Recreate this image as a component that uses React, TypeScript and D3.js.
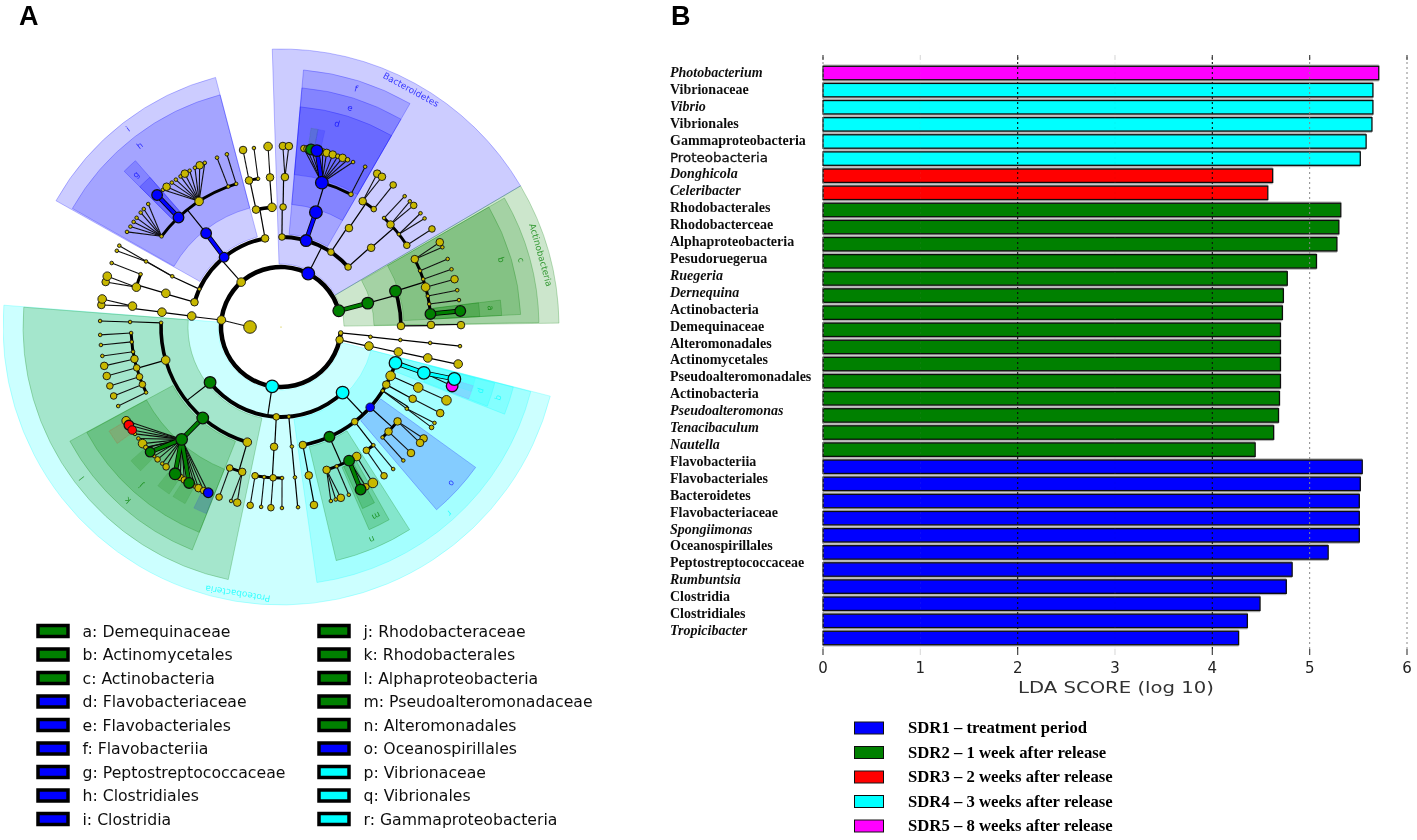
import React from "react";
import * as d3 from "d3";

// ---------- Panel B data ----------
const barLabels = ["Photobacterium","Vibrionaceae","Vibrio","Vibrionales","Gammaproteobacteria","Proteobacteria","Donghicola","Celeribacter","Rhodobacterales","Rhodobacterceae","Alphaproteobacteria","Pesudoruegerua","Ruegeria","Dernequina","Actinobacteria","Demequinaceae","Alteromonadales","Actinomycetales","Pseudoalteromonadales","Actinobacteria","Pseudoalteromonas","Tenacibaculum","Nautella","Flavobacteriia","Flavobacteriales","Bacteroidetes","Flavobacteriaceae","Spongiimonas","Oceanospirillales","Peptostreptococcaceae","Rumbuntsia","Clostridia","Clostridiales","Tropicibacter"];
const barValues = [5.71,5.65,5.65,5.64,5.58,5.52,4.62,4.57,5.32,5.30,5.28,5.07,4.77,4.73,4.72,4.70,4.70,4.70,4.70,4.69,4.68,4.63,4.44,5.54,5.52,5.51,5.51,5.51,5.19,4.82,4.76,4.49,4.36,4.27];
const barGroups = ["m","c","c","c","c","c","r","r","g","g","g","g","g","g","g","g","g","g","g","g","g","g","g","b","b","b","b","b","b","b","b","b","b","b"];
const italicLabels = ["Photobacterium","Vibrio","Donghicola","Celeribacter","Ruegeria","Dernequina","Pseudoalteromonas","Tenacibaculum","Nautella","Spongiimonas","Rumbuntsia","Tropicibacter"];
const xTicks = [0,1,2,3,4,5,6];
const sdrLegend: [string,string][] = [["b","SDR1 – treatment period"],["g","SDR2 – 1 week after release"],["r","SDR3 – 2 weeks after release"],["c","SDR4 – 3 weeks after release"],["m","SDR5 – 8 weeks after release"]];

// ---------- Panel A data ----------
const colours: Record<string,string> = { y:"#c8b800", g:"#008000", b:"#0000ff", r:"#ff0000", c:"#00ffff", m:"#ff00ff" };
const cladeLegendA: [string,string][] = [["g","a: Demequinaceae"],["g","b: Actinomycetales"],["g","c: Actinobacteria"],["b","d: Flavobacteriaceae"],["b","e: Flavobacteriales"],["b","f: Flavobacteriia"],["b","g: Peptostreptococcaceae"],["b","h: Clostridiales"],["b","i: Clostridia"]];
const cladeLegendB: [string,string][] = [["g","j: Rhodobacteraceae"],["g","k: Rhodobacterales"],["g","l: Alphaproteobacteria"],["g","m: Pseudoalteromonadaceae"],["g","n: Alteromonadales"],["b","o: Oceanospirillales"],["c","p: Vibrionaceae"],["c","q: Vibrionales"],["c","r: Gammaproteobacteria"]];

// colour, band, start angle, end angle (degrees clockwise from north)
const sectors: [string,string,number,number][] = [
  ["b","phylum",358.2,419.5],["g","phylum",59.5,89.2],["c","phylum",104.4,274.5],
  ["b","class",299.3,345.3],["b","class",5,30],["g","class",60,89],["g","class",191.8,274.4],["c","class",104.5,172],
  ["b","order",299.6,345.3],["b","order",5,30],["g","order",60,87],["g","order",201.7,241.6],["g","order",147.6,166.7],["b","order",125.8,139.6],["c","order",104.5,111.3],
  ["b","family",5,30],["b","family",314.8,318.8],["g","family",83,87],["g","family",201.7,241.5],["g","family",150.7,156.5],["c","family",104.7,111],
  ["b","inner",314.8,318.8],["g","inner",83,87],["g","inner",152,155.8],
  ["g","genus",8.6,10.6],["b","genus",10.6,12.6],["r","genus",234.6,238.8],["g","genus",224.3,228.3],["g","genus",213.8,217.8],["g","genus",208.5,212.5],["b","genus",201.8,205.7],["m","genus",107,111],["c","genus",104.7,108.7],
];
const bands: Record<string,[number,number]> = { phylum:[63,278], class:[93,258], order:[123,240], family:[153,221], inner:[153,199], genus:[184,201] };

// text, angle, radius, colour
const sectorTexts: [string,number,number,string][] = [
  ["Bacteroidetes",28.7,270,"b"],["Actinobacteria",74.5,269,"g"],["Proteobacteria",189.2,269.5,"c"],
  ["a",84.8,210,"g"],["b",73,230,"g"],["c",74.4,249,"g"],["d",15.4,210.6,"b"],["e",17.5,229.6,"b"],["f",17.5,249.5,"b"],
  ["g",316.4,210,"b"],["h",322.1,229.4,"b"],["i",322.3,250,"b"],["j",221.5,211,"g"],["k",221.5,231,"g"],["l",232.8,249.8,"g"],
  ["m",153.3,211,"g"],["n",156.8,230.7,"g"],["o",132.5,231,"b"],["p",107.7,210,"c"],["q",108,229,"c"],["r",137.9,250.6,"c"],
];

// id, parent, angle, radius, node size, colour, link kind (s: spoke and arc, l: line, t: thick coloured line)
type Clade = [string,string,number,number,number,string,string];
const phyla: Clade[] = [
  ["P0","",0,0,0.6,"y","n"],
  ["Pa","P0",434.3,60,5.5,"g","s"],["Pb","P0",387,60,6,"b","s"],["Pf","P0",318.4,60,4,"y","s"],["Pu","P0",276.7,60,4,"y","s"],
  ["Pp","P0",188.5,60,6,"c","s"],["Py","P0",102.4,60,3.5,"y","s"],["Px","P0",95.7,60,2,"y","s"],
  ["Pi","Pu",270,31,6,"y","l"],
];
const actinobacteria: Clade[] = [
  ["A1","Pa",74.6,90,5.5,"g","t"],["A2","A1",72.6,120,5.5,"g","s"],["A3","A1",89.5,120,3.5,"y","s"],
  ["A4","A3",89.2,150,3.5,"y","s"],["A5","A4",89.4,180,3.5,"y","s"],
  ["B1","A2",63.1,150,3.5,"y","s"],["B2","A2",68,150,1.5,"y","s"],["B3","A2",71.4,150,1.5,"y","s"],["B4","A2",74.6,150,4,"y","s"],["B5","A2",78.1,150,1.5,"y","s"],["B6","A2",81.2,150,1.5,"y","s"],["B7","A2",85,150,5,"g","s"],
  ["C1","B1",61.9,180,3.5,"y","l"],["C2","B1",63.7,180,1.5,"y","l"],["C3","B2",67.8,180,1.5,"y","l"],["C4","B3",71.3,180,1.5,"y","l"],["C5","B4",74.6,180,3.5,"y","l"],["C6","B5",78.2,180,1.5,"y","l"],["C7","B6",81.4,180,1.5,"y","l"],["C8","B7",84.9,180,5,"g","t"],
];
const bacteroidetes: Clade[] = [
  ["D1","Pb",0.6,90,3,"y","s"],["D2","Pb",16.2,90,5.5,"b","s"],["D3","Pb",33.7,90,3,"y","s"],["D4","Pb",48.2,90,3,"y","s"],
  ["D5","D1",1,120,3,"y","s"],["D6","D5",1.5,150,3.5,"y","s"],["D7","D6",0.6,181,3.5,"y","l"],["D8","D6",2.5,181,3.5,"y","l"],
  ["E1","D2",16.9,120,6,"b","t"],["E2","E1",15.8,150,6,"b","s"],["E3","E1",27.8,150,2,"y","s"],["E4","E3",27.7,181,1.5,"y","l"],
  ["F1","E2",7.3,180,3,"y","l"],["F2","E2",8.3,180,3,"y","l"],["F3","E2",13.4,180,3,"y","l"],["F4","E2",14.7,180,3.5,"y","l"],["F5","E2",16.7,180,3.5,"y","l"],["F6","E2",18.4,180,2,"y","l"],["F7","E2",20,180,3.5,"y","l"],["F8","E2",21.7,180,2,"y","l"],["F9","E2",23.6,180,1.5,"y","l"],
  ["F10","E2",9.6,180,5,"g","l"],["F11","E2",11.5,180,5.5,"b","t"],
  ["G1","D3",34.5,120,3.5,"y","s"],["G2","G1",33,150,3.5,"y","s"],["G3","G1",38.2,150,2.5,"y","s"],["G4","G2",32.1,181,3.5,"y","l"],["G5","G2",33.9,181,3.5,"y","l"],["G6","G3",38.3,181,3,"y","l"],
  ["H1","D4",48.7,120,3.5,"y","s"],["H2","H1",43.4,150,1.5,"y","s"],["H3","H1",46.9,150,3.5,"y","s"],["H4","H1",51.8,150,1.5,"y","s"],["H5","H1",57,150,3,"y","s"],
  ["H6","H2",43.4,180,1.5,"y","l"],["H7","H3",45.7,180,1.5,"y","l"],["H8","H3",47.5,180,3,"y","l"],["H9","H4",50.8,180,1.5,"y","l"],["H10","H4",52.9,180,1.5,"y","l"],["H11","H5",57,180,3,"y","l"],
];
const firmicutes: Clade[] = [
  ["I1","Pf",286,90,3.5,"y","s"],["I2","Pf",294.9,90,1.5,"y","s"],["I3","Pf",320.8,90,4.5,"b","s"],["I4","Pf",349.8,90,3.5,"y","s"],
  ["J1","I1",286.3,120,4,"y","s"],["J2","J1",285.4,150,4,"y","s"],["J3","J1",290.6,150,1.5,"y","s"],["J4","J2",284.4,181,3.5,"y","l"],["J5","J2",286.3,181,4,"y","l"],["J6","J3",290.7,181,1.5,"y","l"],
  ["K1","I2",295,120,1.5,"y","s"],["K2","K1",295.9,150,1.5,"y","l"],["K3","K2",294.9,181,1.5,"y","l"],["K4","K1",296.7,181,1.5,"y","l"],
  ["L1","I3",321.4,120,5,"b","t"],["L2","L1",307.2,150,1.5,"y","s"],["L3","L1",316.9,150,5,"b","s"],["L4","L1",326.9,150,4,"y","s"],["L5","L1",339.4,150,1.5,"y","s"],["L6","L1",342.6,150,1.5,"y","s"],
  ["M1","L2",301.7,181,1.5,"y","l"],["M2","L2",303.7,181,1.5,"y","l"],["M3","L2",305.5,181,1.5,"y","l"],["M4","L2",307.1,181,1.5,"y","l"],["M5","L2",309.2,181,1.5,"y","l"],["M6","L2",310.7,181,1.5,"y","l"],["M7","L2",312.8,181,1.5,"y","l"],
  ["N0","L3",316.8,181,5,"b","t"],
  ["N1","L4",319.3,181,1.5,"y","l"],["N2","L4",320.8,181,3.5,"y","l"],["N3","L4",322.9,181,1.5,"y","l"],["N4","L4",324.5,181,1.5,"y","l"],["N5","L4",326.3,181,1.5,"y","l"],["N6","L4",327.9,181,3.5,"y","l"],["N7","L4",329.7,181,1.5,"y","l"],["N8","L4",331.6,181,1.5,"y","l"],["N9","L4",333.3,181,3.5,"y","l"],["N10","L4",335.1,181,1.5,"y","l"],
  ["N11","L5",339.3,181,1.5,"y","l"],["N12","L6",342.6,181,1.5,"y","l"],
  ["O1","I4",348,120,3.5,"y","s"],["O2","I4",355.7,120,4,"y","s"],["O3","O1",347.7,150,3.5,"y","s"],["O4","O1",351.2,150,1.5,"y","s"],["O5","O3",347.9,181,3.5,"y","l"],["O6","O4",351.4,181,1.5,"y","l"],["O7","O2",355.8,150,3.5,"y","s"],["O8","O7",355.9,181,4,"y","l"],
];
const unnamedPhyla: Clade[] = [
  ["Q1","Pu",277,90,4,"y","s"],["Q2","Q1",277.1,120,4,"y","s"],["Q3","Q2",278,150,4,"y","s"],["Q4","Q3",277,181,3.5,"y","l"],["Q5","Q3",278.9,181,4,"y","l"],
  ["R1","Py",102.2,90,4,"y","s"],["R2","R1",102,120,4,"y","s"],["R3","R2",101.9,150,4,"y","s"],["R4","R3",101.8,181,4,"y","s"],
  ["S1","Px",96.3,90,1.5,"y","s"],["S2","S1",96.2,120,1.5,"y","s"],["S3","S2",96.1,150,1.5,"y","s"],["S4","S3",96.1,180,1.5,"y","s"],
];
const alphaproteobacteria: Clade[] = [
  ["T1","Pp",232,90,5.5,"g","s"],["T2","Pp",183,90,3,"y","s"],["T3","Pp",175,90,1.5,"y","s"],["T4","Pp",136.8,90,6,"c","s"],
  ["U1","T1",196.3,120,4,"y","s"],["U2","T1",220.7,120,5.5,"g","s"],["U3","T1",254,120,4,"y","s"],["U4","T1",272,120,1.5,"y","s"],
  ["U5","U4",271.9,151,1.5,"y","s"],["U6","U5",271.9,181,1.5,"y","s"],
  ["V1","U3",267.7,150,1.5,"y","s"],["V2","U3",264.3,150,1.5,"y","s"],["V3","U3",260.5,150,1.5,"y","s"],["V4","U3",257.7,150,3.5,"y","s"],["V5","U3",254.2,150,3,"y","s"],["V6","U3",250.6,150,3,"y","s"],["V7","U3",247.5,150,3,"y","s"],["V8","U3",244.1,150,1.5,"y","s"],
  ["W1","V1",267.5,181,1.5,"y","l"],["W2","V2",264.3,181,1.5,"y","l"],["W3","V3",260.8,181,1.5,"y","l"],["W4","V4",257.6,181,3.5,"y","l"],["W5","V5",254.3,181,3.5,"y","l"],["W6","V6",251,181,3,"y","l"],["W7","V7",247.6,181,3,"y","l"],["W8","V8",244.1,181,1.5,"y","l"],
  ["X1","U1",200,150,3,"y","s"],["X2","U1",195,150,3.5,"y","s"],["X3","X1",200,181,3,"y","l"],["X4","X2",194,181,3.5,"y","l"],["X5","X2",196,181,1.5,"y","l"],
  ["Y0","U2",221.5,150,5.5,"g","t"],
  ["Y1","Y0",238.8,181,4,"y","l"],["Y2","Y0",232,181,1.5,"y","l"],["Y3","Y0",233.8,181,1.5,"y","l"],["Y4","Y0",229.9,181,4,"y","l"],["Y5","Y0",228.2,181,1.5,"y","l"],["Y6","Y0",228.3,181,2,"y","l"],["Y7","Y0",224.5,181,1.5,"y","l"],["Y8","Y0",223,181,2.5,"y","l"],["Y9","Y0",221,181,1.5,"y","l"],["Y10","Y0",219.4,181,3,"y","l"],["Y11","Y0",213.8,181,3,"y","l"],["Y12","Y0",212.3,181,3,"y","l"],["Y13","Y0",208.4,181,2,"y","l"],["Y14","Y0",207.1,181,3.5,"y","l"],["Y15","Y0",205.3,181,3,"y","l"],
  ["Y16","Y0",237.2,181,4.5,"r","l"],["Y17","Y0",235.3,181,4,"r","l"],["Y18","Y0",203.7,181,4.5,"b","l"],["Y19","Y0",226.3,181,4.5,"g","t"],["Y20","Y0",215.8,181,5.5,"g","t"],["Y21","Y0",210.5,181,5,"g","t"],
  ["Z1","T2",183.3,120,3.5,"y","s"],["Z2","Z1",189.9,151,3,"y","s"],["Z3","Z1",186.4,151,1.5,"y","s"],["Z4","Z1",183,151,3,"y","s"],["Z5","Z1",179.6,151,1.5,"y","s"],
  ["Z6","Z2",189.8,181,3,"y","l"],["Z7","Z3",186.3,181,1.5,"y","l"],["Z8","Z4",183.2,181,3,"y","l"],["Z9","Z5",179.7,181,1.5,"y","l"],
  ["Z10","T3",174.8,120,1.5,"y","s"],["Z11","Z10",174.7,151,1.5,"y","s"],["Z12","Z11",174.6,181,1.5,"y","s"],
];
const gammaproteobacteria: Clade[] = [
  ["a1","T4",169.5,120,3.5,"y","s"],["a2","T4",156.2,120,5,"g","s"],["a3","T4",142.1,120,3,"y","s"],["a4","T4",132,120,4,"b","s"],["a5","T4",122.1,120,1.5,"y","s"],["a6","T4",118.7,120,3.5,"y","s"],["a7","T4",114,120,4.5,"y","s"],["a8","T4",107.4,120,6,"c","s"],
  ["b1","a1",169.4,151,3.5,"y","s"],["b2","b1",169.5,181,3.5,"y","s"],
  ["c1","a2",162.3,150,3.5,"y","s"],["c2","a2",158.2,150,1.5,"y","s"],["c3","a2",153,150,5,"g","s"],["c4","a2",149.7,150,4,"y","s"],
  ["c5","c1",164,181,1.5,"y","l"],["c6","c1",162.4,181,1.5,"y","l"],["c7","c1",160.7,181,3.5,"y","l"],["c8","c2",158,181,1.5,"y","l"],
  ["c9","c3",152,181,3,"y","l"],["c10","c3",153.9,181,5,"g","t"],["c11","c4",149.5,181,4.5,"y","l"],
  ["d1","a3",142,150,1.5,"y","s"],["d2","a3",145.3,150,3,"y","s"],["d3","d1",141.7,181,1.5,"y","l"],["d4","d2",145.3,181,3,"y","l"],
  ["e1","a4",129,150,3.5,"y","s"],["e2","a4",134.2,150,3.5,"y","s"],["e3","a4",137.4,150,1.5,"y","s"],
  ["e4","e1",128,181,3.5,"y","l"],["e5","e1",129.8,181,3.5,"y","l"],["e6","e2",134.1,181,3.5,"y","l"],["e7","e3",137.5,181,1.5,"y","l"],
  ["f1","a5",123,150,1.5,"y","s"],["f2","f1",122,181,1.5,"y","l"],["f3","a5",123.7,181,2,"y","l"],
  ["f4","a6",118.6,150,3.5,"y","s"],["f5","f4",118.4,181,3.5,"y","l"],["f6","a7",113.8,150,4.5,"y","s"],["f7","f6",113.9,181,4.5,"y","l"],
  ["h1","a8",107.8,150,6,"c","t"],["h3","h1",109,181,5.5,"m","l"],["h2","h1",106.7,181,6,"c","t"],
];
const clades: Clade[] = [...phyla,...actinobacteria,...bacteroidetes,...firmicutes,...unnamedPhyla,...alphaproteobacteria,...gammaproteobacteria];

// ---------- helpers ----------
const W = 1417, H = 840, CX = 281, CY = 327;
const rad = d3.scaleLinear().domain([0,360]).range([0,2*Math.PI]);
const pt = (a:number,r:number):[number,number] => { const [x,y]=d3.pointRadial(rad(a),r); return [x,y]; };
const x = d3.scaleLinear().domain([0,6]).range([823,1407]);
const y = d3.scaleLinear().domain([0,33]).range([73,638]);
const labelY = d3.scaleLinear().domain([0,33]).range([73,631]);
const legendY = d3.scaleLinear().domain([0,8]).range([631,819]);
const sdrY = d3.scaleLinear().domain([0,4]).range([728,826]);
const arcWidth = d3.scaleThreshold<number,number>().domain([70,100,130]).range([4.5,4,3.6,3]);

function Cladogram() {
  const arcGen = d3.arc();
  const byId = new Map(clades.map(c=>[c[0],c]));
  const groups = d3.group(clades.filter(c=>c[6]==="s"),c=>c[1]);
  const arcs: React.ReactNode[] = [];
  const spokes: React.ReactNode[] = [];
  groups.forEach((kids,pid)=>{
    const p = byId.get(pid)!;
    const r = kids[0][3];
    const pa = pid==="P0" ? null : p[2]%360;
    const all = kids.map(k=>k[2]).concat(pa===null?[]:[pa]);
    const [a0,a1] = d3.extent(all) as [number,number];
    if(a1-a0>0.5){
      const w = arcWidth(r);
      arcs.push(<path key={"a"+pid} d={arcGen({innerRadius:r-w/2,outerRadius:r+w/2,startAngle:rad(a0),endAngle:rad(a1)}) as string} fill="#000"/>);
    }
    if(pa!==null){
      const [x0,y0]=pt(pa,p[3]); const [x1,y1]=pt(pa,r);
      spokes.push(<line key={"s"+pid} x1={x0} y1={y0} x2={x1} y2={y1} stroke="#000" strokeWidth={1.2}/>);
    }
    kids.forEach(k=>{
      if(k[3]!==r){ const [u0,v0]=pt(k[2],r); const [u1,v1]=pt(k[2],k[3]); spokes.push(<line key={"x"+k[0]} x1={u0} y1={v0} x2={u1} y2={v1} stroke="#000" strokeWidth={1.2}/>); }
    });
  });
  const lines = clades.filter(c=>c[6]==="l"||c[6]==="t").map(c=>{
    const p = byId.get(c[1])!;
    const [x0,y0]=pt(p[2],p[3]); const [x1,y1]=pt(c[2],c[3]);
    const thick = c[6]==="t";
    return <line key={"l"+c[0]} x1={x0} y1={y0} x2={x1} y2={y1} stroke={thick?"#000":"#111"} strokeWidth={thick?4.8:1.1}/>;
  });
  const thickInner = clades.filter(c=>c[6]==="t").map(c=>{
    const p = byId.get(c[1])!;
    const [x0,y0]=pt(p[2],p[3]); const [x1,y1]=pt(c[2],c[3]);
    return <line key={"t"+c[0]} x1={x0} y1={y0} x2={x1} y2={y1} stroke={colours[c[5]]} strokeWidth={3.2}/>;
  });
  const ordered = [...clades].sort((a,b)=>(a[5]==="y"?0:1)-(b[5]==="y"?0:1));
  return (
    <g transform={`translate(${CX},${CY})`}>
      {sectors.map((s,i)=>{
        const [r0,r1]=bands[s[1]];
        const genus = s[1]==="genus";
        return <path key={i} d={arcGen({innerRadius:r0,outerRadius:r1,startAngle:rad(s[2]),endAngle:rad(s[3])}) as string} fill={colours[s[0]]} fillOpacity={genus?(s[0]==="r"?0.1:0.14):0.2} stroke={colours[s[0]]} strokeOpacity={genus?0.1:0.25} strokeWidth={1}/>;
      })}
      {sectorTexts.map((t,i)=>{
        const [tx,ty]=pt(t[1],t[2]);
        return <text key={i} transform={`translate(${tx},${ty}) rotate(${t[1]})`} textAnchor="middle" dominantBaseline="middle" fontFamily="DejaVu Sans" fontSize={t[0].length>1?9:8.5} fill={colours[t[3]]} fillOpacity={0.75}>{t[0]}</text>;
      })}
      {spokes}{arcs}{lines}{thickInner}
      {ordered.map(c=>{
        const [nx,ny]=pt(c[2],c[3]);
        return <circle key={c[0]} cx={nx} cy={ny} r={c[0]==="P0"?c[4]:c[4]+0.3} fill={colours[c[5]]} stroke="#111" strokeWidth={c[4]>=4.5&&c[5]!=="y"?1.3:c[0]==="P0"?0:0.9}/>;
      })}
    </g>
  );
}

function LegendColumn({items,boxX}:{items:[string,string][],boxX:number}) {
  return <g>{items.map((it,i)=>(
    <g key={i}>
      <rect x={boxX} y={legendY(i)-5.5} width={30} height={11} fill={colours[it[0]]} stroke="#000" strokeWidth={3.5}/>
      <text x={boxX+44.5} y={legendY(i)+5.5} fontFamily="DejaVu Sans" fontSize={15.7} fill="#111">{it[1]}</text>
    </g>
  ))}</g>;
}

export default function App() {
  return (
    <svg width={W} height={H} viewBox={`0 0 ${W} ${H}`} style={{position:"absolute",left:0,top:0,background:"#fff"}}>
      <defs><filter id="soft" x="0" y="0" width="100%" height="100%"><feGaussianBlur stdDeviation="0.35"/></filter></defs>
      <g filter="url(#soft)">
      <text x={19} y={25} fontFamily="Liberation Sans" fontWeight="bold" fontSize={27} fill="#000">A</text>
      <text x={671} y={25} fontFamily="Liberation Sans" fontWeight="bold" fontSize={27} fill="#000">B</text>
      <Cladogram/>
      <LegendColumn items={cladeLegendA} boxX={38}/>
      <LegendColumn items={cladeLegendB} boxX={319}/>

      {barLabels.map((l,i)=>{
        const w = x(barValues[i])-x(0);
        return <rect key={"s"+i} x={x(0)} y={y(i)-8.5} width={w} height={17} fill="#b4b4b4"/>;
      })}
      {barLabels.map((l,i)=>{
        const w = x(barValues[i])-x(0);
        return <rect key={"b"+i} x={x(0)} y={y(i)-6.7} width={w} height={13.4} fill={colours[barGroups[i]]} stroke="#111" strokeWidth={1.3}/>;
      })}
      {xTicks.map(t=>{
        const dark = t===2||t===4;
        const faint = t===1||t===3;
        return <g key={t}>
          <line x1={x(t)} x2={x(t)} y1={57} y2={650} stroke={dark?"#111":"#888"} strokeOpacity={faint?0.08:1} strokeWidth={dark?1.1:1} strokeDasharray="2 3"/>
          <line x1={x(t)} x2={x(t)} y1={55} y2={60} stroke={faint?"#ddd":"#444"} strokeWidth={1.2}/>
          <line x1={x(t)} x2={x(t)} y1={649} y2={655} stroke={faint?"#ddd":"#444"} strokeWidth={1.2}/>
          <text x={x(t)} y={673} textAnchor="middle" fontFamily="DejaVu Sans" fontSize={15} fill="#222">{t}</text>
        </g>;
      })}
      {barLabels.map((l,i)=>{
        const sans = l==="Proteobacteria"&&i===5;
        return <text key={"t"+i} x={670} y={labelY(i)+4} fontFamily={sans?"DejaVu Sans":"Liberation Serif"} fontWeight={sans?"normal":"bold"} fontStyle={italicLabels.includes(l)?"italic":"normal"} fontSize={sans?13:14} stroke={sans?"#111":"none"} strokeWidth={sans?0.3:0} fill="#111" textLength={sans?98:undefined} lengthAdjust="spacingAndGlyphs">{l}</text>;
      })}
      <text x={1116} y={693} textAnchor="middle" fontFamily="DejaVu Sans" fontSize={15} fill="#333" textLength={196} lengthAdjust="spacingAndGlyphs">LDA SCORE (log 10)</text>
      {sdrLegend.map((s,i)=>(
        <g key={i}>
          <rect x={854.5} y={sdrY(i)-6} width={29} height={12} fill={colours[s[0]]} stroke="#111" strokeWidth={1}/>
          <text x={908} y={sdrY(i)+5} fontFamily="Liberation Serif" fontWeight="bold" fontSize={16.7} fill="#000">{s[1]}</text>
        </g>
      ))}
      </g>
    </svg>
  );
}
